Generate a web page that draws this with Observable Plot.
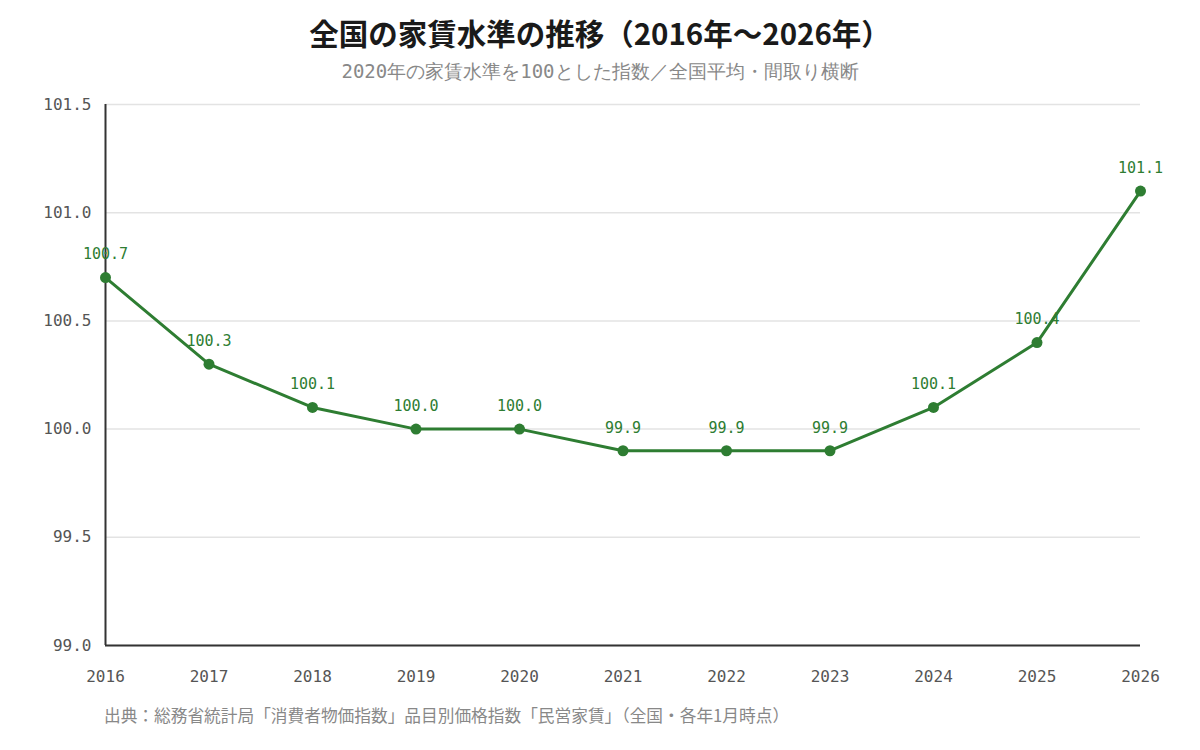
<!DOCTYPE html>
<html lang="ja">
<head>
<meta charset="utf-8">
<script src="https://cdn.jsdelivr.net/npm/d3@7"></script>
<script src="https://cdn.jsdelivr.net/npm/@observablehq/plot@0.6"></script>
<style>
  html, body { margin: 0; padding: 0; background: #fff; }
  #wrap { width: 1200px; }
  .title { height: 54px; padding-top: 12px; box-sizing: border-box; text-align: center;
    font-family: "Noto Sans CJK JP", sans-serif; font-weight: 700; font-size: 29.5px; color: #1a1a1a; line-height: 40px; }
  .subtitle { height: 36px; text-align: center; font-family: monospace; font-size: 19px; color: #888; line-height: 34px; }
  .caption { padding-left: 104px; font-family: "Noto Sans CJK JP", sans-serif; font-size: 16.7px; color: #888; line-height: 30px; }
  svg { display: block; }
</style>
</head>
<body>
<div id="wrap">
  <div class="title">全国の家賃水準の推移（2016年〜2026年）</div>
  <div class="subtitle">2020年の家賃水準を100とした指数／全国平均・間取り横断</div>
  <div id="chart"></div>
  <div class="caption">出典：総務省統計局「消費者物価指数」品目別価格指数「民営家賃」（全国・各年1月時点）</div>
</div>
<script>
// 家賃指数（2020年=100）
const years = [2016, 2017, 2018, 2019, 2020, 2021, 2022, 2023, 2024, 2025, 2026];
const rentIndex = [100.7, 100.3, 100.1, 100.0, 100.0, 99.9, 99.9, 99.9, 100.1, 100.4, 101.1];
const yTicks = [99.0, 99.5, 100.0, 100.5, 101.0, 101.5];

const data = years.map((year, i) => ({year, value: rentIndex[i]}));
const green = "#2e7d32";

const chart = Plot.plot({
  width: 1200,
  height: 610,
  marginTop: 14,
  marginBottom: 55,
  marginLeft: 105,
  marginRight: 60,
  style: {fontFamily: "monospace", fontSize: "16px", color: "#555", background: "#fff"},
  x: {domain: [2016, 2026]},
  y: {domain: [99.0, 101.5]},
  marks: [
    Plot.gridY(yTicks, {stroke: "#e3e3e3", strokeOpacity: 1, strokeWidth: 1.5}),
    Plot.axisY(yTicks, {tickSize: 0, tickPadding: 14, tickFormat: d => d.toFixed(1), label: null, fill: "#555"}),
    Plot.axisX(years, {tickSize: 0, tickPadding: 25, tickFormat: d => String(d), label: null, fill: "#555"}),
    Plot.ruleX([2016], {stroke: "#333", strokeWidth: 2}),
    Plot.ruleY([99.0], {stroke: "#333", strokeWidth: 2}),
    Plot.line(data, {x: "year", y: "value", stroke: green, strokeWidth: 3}),
    Plot.dot(data, {x: "year", y: "value", fill: green, r: 5.5}),
    Plot.text(data, {x: "year", y: "value", text: d => d.value.toFixed(1), dy: -23, fill: green, fontSize: 15})
  ]
});
document.getElementById("chart").append(chart);
</script>
</body>
</html>
